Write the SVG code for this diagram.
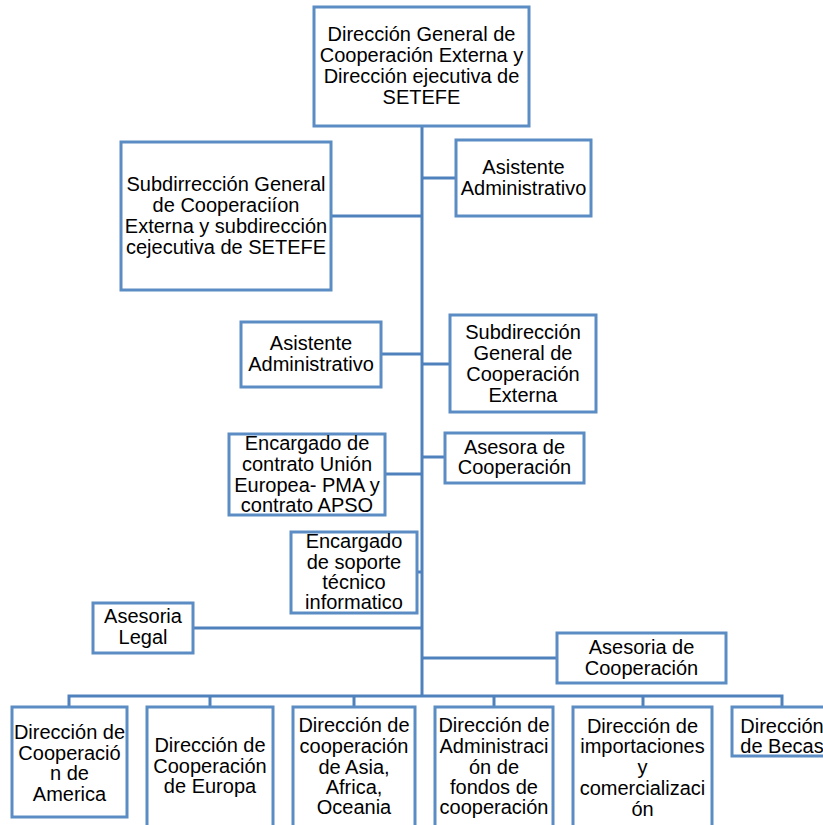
<svg xmlns="http://www.w3.org/2000/svg" width="823" height="825" viewBox="0 0 823 825">
<style>
.box{fill:#ffffff;stroke:#5b8cc4;stroke-width:3}
.ln{fill:none;stroke:#4f81bd;stroke-width:3}
text{font-family:"Liberation Sans",Arial,sans-serif;font-size:20px;fill:#000;text-anchor:middle}
</style>
<rect width="823" height="825" fill="#ffffff"/>
<g id="connectors">
<path class="ln" d="M422,126 V696"/>
<path class="ln" d="M422,178 H456"/>
<path class="ln" d="M331,216 H422"/>
<path class="ln" d="M381,354 H422"/>
<path class="ln" d="M422,364 H450"/>
<path class="ln" d="M385,474 H422"/>
<path class="ln" d="M422,457 H445"/>
<path class="ln" d="M417,572 H422"/>
<path class="ln" d="M193,628 H422"/>
<path class="ln" d="M422,658 H557"/>
<path class="ln" d="M69,707 V696 H782 V707"/>
<path class="ln" d="M210,696 V707"/>
<path class="ln" d="M354,696 V707"/>
<path class="ln" d="M494,696 V707"/>
<path class="ln" d="M643,696 V707"/>
</g>
<g id="n_top">
<rect class="box" x="314" y="7" width="215" height="119"/>
<text x="421.5" y="41">Dirección General de</text>
<text x="421.5" y="62">Cooperación Externa y</text>
<text x="421.5" y="83">Dirección ejecutiva de</text>
<text x="421.5" y="104">SETEFE</text>
</g>
<g id="n_asistente1">
<rect class="box" x="456" y="140" width="135" height="76"/>
<text x="523.5" y="174">Asistente</text>
<text x="523.5" y="195">Administrativo</text>
</g>
<g id="n_subdir1">
<rect class="box" x="121" y="142" width="210" height="148"/>
<text x="226" y="191">Subdirrección General</text>
<text x="226" y="212">de Cooperaciíon</text>
<text x="226" y="233">Externa y subdirección</text>
<text x="226" y="254">cejecutiva de SETEFE</text>
</g>
<g id="n_asistente2">
<rect class="box" x="241" y="322" width="140" height="65"/>
<text x="311" y="350">Asistente</text>
<text x="311" y="371">Administrativo</text>
</g>
<g id="n_subdir2">
<rect class="box" x="450" y="315" width="146" height="97"/>
<text x="523" y="339">Subdirección</text>
<text x="523" y="360">General de</text>
<text x="523" y="381">Cooperación</text>
<text x="523" y="402">Externa</text>
</g>
<g id="n_encargado1">
<rect class="box" x="229" y="434" width="156" height="81"/>
<text x="307" y="450">Encargado de</text>
<text x="307" y="471">contrato Unión</text>
<text x="307" y="492">Europea- PMA y</text>
<text x="307" y="512">contrato APSO</text>
</g>
<g id="n_asesora">
<rect class="box" x="445" y="433" width="139" height="50"/>
<text x="514.5" y="454">Asesora de</text>
<text x="514.5" y="474">Cooperación</text>
</g>
<g id="n_encargado2">
<rect class="box" x="291" y="532" width="126" height="81"/>
<text x="354" y="548">Encargado</text>
<text x="354" y="569">de soporte</text>
<text x="354" y="589">técnico</text>
<text x="354" y="609">informatico</text>
</g>
<g id="n_legal">
<rect class="box" x="93" y="603" width="100" height="50"/>
<text x="143" y="623">Asesoria</text>
<text x="143" y="644">Legal</text>
</g>
<g id="n_asesoria">
<rect class="box" x="557" y="633" width="169" height="50"/>
<text x="641.5" y="654">Asesoria de</text>
<text x="641.5" y="675">Cooperación</text>
</g>
<g id="n_america">
<rect class="box" x="12" y="707" width="115" height="110"/>
<text x="69.5" y="739">Dirección de</text>
<text x="69.5" y="760">Cooperació</text>
<text x="69.5" y="780">n de</text>
<text x="69.5" y="801">America</text>
</g>
<g id="n_europa">
<rect class="box" x="147" y="707" width="126" height="130"/>
<text x="210" y="752">Dirección de</text>
<text x="210" y="773">Cooperación</text>
<text x="210" y="793">de Europa</text>
</g>
<g id="n_asia">
<rect class="box" x="293" y="707" width="122" height="130"/>
<text x="354" y="732">Dirección de</text>
<text x="354" y="753">cooperación</text>
<text x="354" y="774">de Asia,</text>
<text x="354" y="794">Africa,</text>
<text x="354" y="814">Oceania</text>
</g>
<g id="n_fondos">
<rect class="box" x="435" y="707" width="118" height="130"/>
<text x="494" y="732">Dirección de</text>
<text x="494" y="753">Administraci</text>
<text x="494" y="774">ón de</text>
<text x="494" y="794">fondos de</text>
<text x="494" y="814">cooperación</text>
</g>
<g id="n_importaciones">
<rect class="box" x="573" y="707" width="139" height="130"/>
<text x="642.5" y="733">Dirección de</text>
<text x="642.5" y="753">importaciones</text>
<text x="642.5" y="774">y</text>
<text x="642.5" y="795">comercializaci</text>
<text x="642.5" y="816">ón</text>
</g>
<g id="n_becas">
<rect class="box" x="732" y="707" width="100" height="49"/>
<text x="782" y="733">Dirección</text>
<text x="782" y="753">de Becas</text>
</g>
</svg>
